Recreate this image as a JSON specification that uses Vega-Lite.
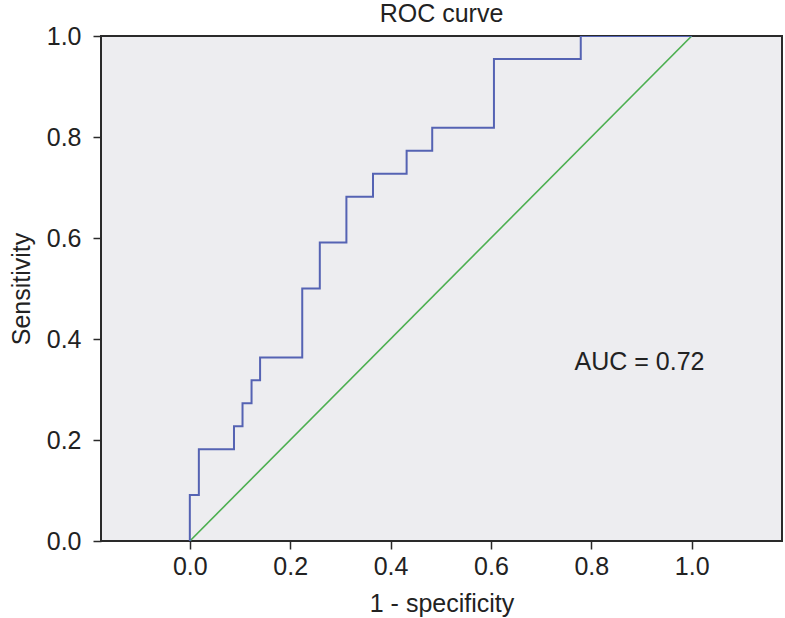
{
  "$schema": "https://vega.github.io/schema/vega-lite/v6.json",
  "autosize": {"type": "none"},
  "padding": {"left": 101, "top": 36, "right": 2, "bottom": 77},
  "width": 681,
  "height": 505,
  "background": "white",
  "title": {"text": "ROC curve", "fontSize": 25, "font": "Liberation Sans", "fontWeight": "normal", "color": "#222222", "offset": -3, "anchor": "middle"},
  "config": {
    "view": {"stroke": "#2a2a2a", "strokeWidth": 2, "fill": "#ededf0"},
    "axis": {
      "grid": false, "domain": false, "tickColor": "#2a2a2a", "tickWidth": 1.5, "tickSize": 8,
      "labelFont": "Liberation Sans", "labelFontSize": 25, "labelColor": "#222222",
      "titleFont": "Liberation Sans", "titleFontSize": 25, "titleColor": "#222222", "titleFontWeight": "normal",
      "labelPadding": 5
    }
  },
  "datasets": {
    "roc": [
      {"fpr": 0.0, "tpr": 0.0},
      {"fpr": 0.0, "tpr": 0.0909},
      {"fpr": 0.018, "tpr": 0.1818},
      {"fpr": 0.088, "tpr": 0.2273},
      {"fpr": 0.105, "tpr": 0.2727},
      {"fpr": 0.123, "tpr": 0.3182},
      {"fpr": 0.140, "tpr": 0.3636},
      {"fpr": 0.224, "tpr": 0.5},
      {"fpr": 0.259, "tpr": 0.5909},
      {"fpr": 0.312, "tpr": 0.6818},
      {"fpr": 0.365, "tpr": 0.7273},
      {"fpr": 0.432, "tpr": 0.7727},
      {"fpr": 0.483, "tpr": 0.8182},
      {"fpr": 0.606, "tpr": 0.9545},
      {"fpr": 0.779, "tpr": 1.0},
      {"fpr": 1.0, "tpr": 1.0}
    ],
    "diag": [
      {"fpr": 0.0, "tpr": 0.0},
      {"fpr": 1.0, "tpr": 1.0}
    ],
    "note": [
      {"fpr": 0.896, "tpr": 0.354, "label": "AUC = 0.72"}
    ]
  },
  "encoding": {
    "x": {"field": "fpr", "type": "quantitative", "scale": {"domain": [-0.177, 1.18], "nice": false, "zero": false},
          "axis": {"title": "1 - specificity", "values": [0, 0.2, 0.4, 0.6, 0.8, 1.0], "format": ".1f", "titlePadding": 12}},
    "y": {"field": "tpr", "type": "quantitative", "scale": {"domain": [0, 1], "nice": false},
          "axis": {"title": "Sensitivity", "values": [0, 0.2, 0.4, 0.6, 0.8, 1.0], "format": ".1f", "labelPadding": 12, "titlePadding": 12}}
  },
  "layer": [
    {"data": {"name": "diag"}, "mark": {"type": "line", "color": "#4caf50", "strokeWidth": 1.6, "clip": true}},
    {"data": {"name": "roc"}, "mark": {"type": "line", "color": "#5563b3", "strokeWidth": 2, "interpolate": "step-after", "clip": true}},
    {"data": {"name": "note"}, "mark": {"type": "text", "font": "Liberation Sans", "fontSize": 25, "color": "#222222", "baseline": "middle", "align": "center"},
     "encoding": {"text": {"field": "label"}}}
  ]
}
